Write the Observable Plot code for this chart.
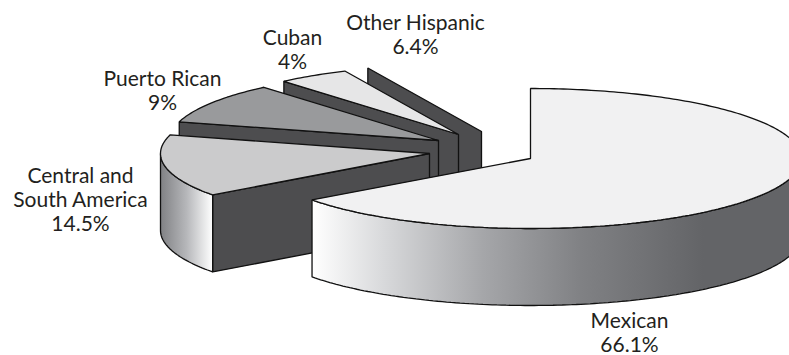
<!DOCTYPE html>
<html>
<head>
<meta charset="utf-8">
<script src="https://cdn.jsdelivr.net/npm/d3@7"></script>
<script src="https://cdn.jsdelivr.net/npm/@observablehq/plot@0.6"></script>
<style>
  html, body { margin: 0; background: #fff; }
</style>
</head>
<body>
<div id="chart"></div>
<script>
// Hispanic population by origin, percent of total
const categories = ["Mexican", "Central and\nSouth America", "Puerto Rican", "Cuban", "Other Hispanic"];
const shares = [66.1, 14.5, 9, 4, 6.4];

// Pull-out of each wedge from the pie centre
const pullX = [0, -101, -92, -72, -49];
const pullY = [0, -5, -18, -24, -27];
const radiusX = [271, 269, 269, 269, 269];

// Label anchors
const labelX = [629, 80, 162, 292, 415];
const labelY = [332, 199.3, 90.3, 49.3, 34.3];

// Wedge styling
const topFills = ["#f1f1f2", "#cbcbcc", "#999a9c", "#e6e6e7", "none"];
const wallFill = "#4d4d4f";

// Projection of the tilted disc
const cx = 530, cy = 158, ry = 70, depth = 77, lens = 5;
const rad = Math.PI / 180;

// Angles are clockwise from twelve o'clock; the lens term is the slight
// foreshortening of the oblique view.
const shown = (deg) => deg + lens * Math.sin(deg * rad);
const edges = d3.cumsum([0, ...shares]).map((s) => shown((s / 100) * 360));

const rim = (i, deg, drop = 0) => ({
  x: cx + pullX[i] + radiusX[i] * Math.sin(deg * rad),
  y: cy + pullY[i] - ry * Math.cos(deg * rad) + drop
});
const apex = (i, drop = 0) => ({x: cx + pullX[i], y: cy + pullY[i] + drop});
const arc = (i, from, to, drop = 0) => {
  const n = Math.ceil(Math.abs(to - from)) + 1;
  return d3.range(n + 1).map((k) => rim(i, from + ((to - from) * k) / n, drop));
};

const topFace = (i) => [apex(i), ...arc(i, edges[i], edges[i + 1])];
const wall = (i) => [apex(i), rim(i, edges[i]), rim(i, edges[i], depth), apex(i, depth)];
const side = (i, from, to) => [...arc(i, from, to), ...arc(i, to, from, depth)];

const polygon = (points, fill) =>
  Plot.line(points, {
    x: "x",
    y: "y",
    fill,
    stroke: "#111",
    strokeWidth: 1.3,
    strokeLinejoin: "miter",
    curve: "linear-closed"
  });

// Shading of the curved outer walls
const gradient = (id, stops) => () => {
  const svg = d3.create("svg:defs");
  const g = svg.append("linearGradient").attr("id", id).attr("x1", 0).attr("x2", 1).attr("y1", 0).attr("y2", 0);
  for (const [offset, color] of stops) g.append("stop").attr("offset", offset).attr("stop-color", color);
  return svg.node();
};

const chart = Plot.plot({
  width: 789,
  height: 355,
  margin: 0,
  x: {domain: [0, 789], range: [0, 789], axis: null},
  y: {domain: [0, 355], range: [0, 355], axis: null},
  marks: [
    gradient("sideMexican", [[0, "#ffffff"], [0.15, "#d7d8da"], [0.35, "#a5a6a9"], [0.55, "#808184"], [0.8, "#636467"], [1, "#636467"]]),
    gradient("sideCentral", [[0, "#808184"], [0.5, "#b6b7ba"], [1, "#ffffff"]]),

    // Back to front: the far wedges are overlapped by the nearer ones
    polygon(wall(4), wallFill),
    polygon(wall(3), wallFill),
    polygon(topFace(3), topFills[3]),
    polygon(wall(2), wallFill),
    polygon(topFace(2), topFills[2]),
    polygon(wall(1), wallFill),
    polygon(side(1, edges[1], 270), "url(#sideCentral)"),
    polygon(topFace(1), topFills[1]),
    polygon(side(0, edges[1], 90), "url(#sideMexican)"),
    polygon(topFace(0), topFills[0]),

    Plot.text(categories, {
      x: (d, i) => labelX[i],
      y: (d, i) => labelY[i],
      text: (d, i) => `${d}\n${shares[i]}%`,
      fontFamily: "Lato",
      fontSize: 21,
      lineHeight: 1.143,
      fill: "#231f20",
      textAnchor: "middle",
      lineAnchor: "middle"
    })
  ]
});

document.getElementById("chart").append(chart);
</script>
</body>
</html>
